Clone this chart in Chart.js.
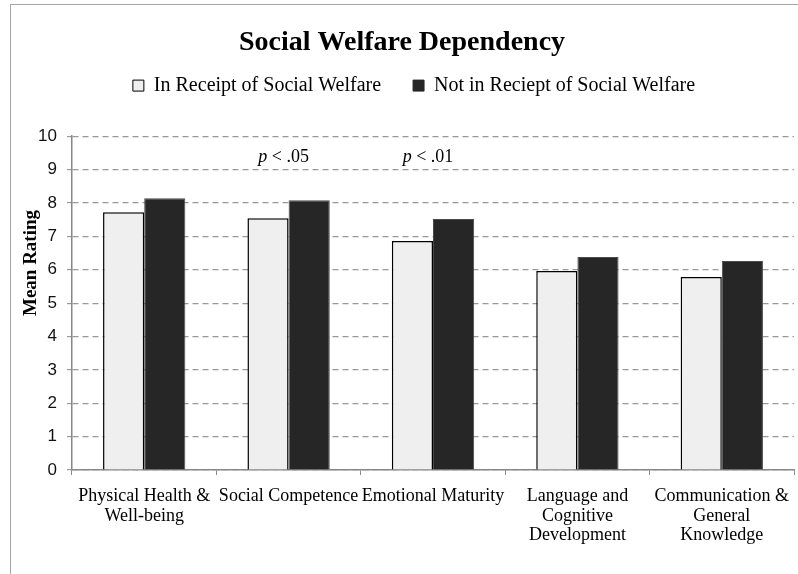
<!DOCTYPE html>
<html>
<head>
<meta charset="utf-8">
<script src="https://cdn.jsdelivr.net/npm/chart.js@4/dist/chart.umd.min.js"></script>
<style>
  html, body { margin: 0; padding: 0; background: #fff; }
  #wrap { position: relative; width: 798px; height: 574px; overflow: hidden; }
  #frame { position: absolute; left: 10px; top: 4px; width: 800px; height: 600px; border-left: 1px solid #a6a6a6; border-top: 1px solid #a6a6a6; pointer-events: none; }
  canvas { position: absolute; left: 0; top: 0; }
</style>
</head>
<body>
<div id="wrap">
  <canvas id="c" width="798" height="574"></canvas>
  <div id="frame"></div>
</div>
<script>
const categories = [
  ["Physical Health &", "Well-being"],
  ["Social Competence"],
  ["Emotional Maturity"],
  ["Language and", "Cognitive", "Development"],
  ["Communication &", "General", "Knowledge"]
];
const seriesNames = ["In Receipt of Social Welfare", "Not in Reciept of Social Welfare"];
const inReceipt = [7.72, 7.54, 6.86, 5.96, 5.78];
const notInReceipt = [8.14, 8.08, 7.52, 6.38, 6.26];
const annotations = [
  { index: 1, text: ".05" },
  { index: 2, text: ".01" }
];
const annotationLevel = 9.37;
const yTicks = [0, 1, 2, 3, 4, 5, 6, 7, 8, 9, 10];

const serif = "'Liberation Serif', 'Times New Roman', serif";
const sans = "'Liberation Sans', Arial, sans-serif";

const LEGEND_H = 76.6;     // total legend box height
const LEGEND_VPAD = 16;    // space above legend row
const LEGEND_SHIFT_X = 12; // legend centre offset

const extras = {
  id: 'extras',
  beforeLayout(chart) {
    const lg = chart.legend;
    if (lg && !lg.__patched) {
      lg.__patched = true;
      const origFit = lg.fit;
      lg.fit = function () {
        origFit.apply(this, arguments);
        this.height = LEGEND_H;
      };
      const origDraw = lg.draw;
      lg.draw = function () {
        const P = this.options.labels.padding;
        const t = this.top, l = this.left, r = this.right;
        this.top = t - (P - LEGEND_VPAD);
        this.left = l + LEGEND_SHIFT_X;
        this.right = r + LEGEND_SHIFT_X;
        origDraw.apply(this, arguments);
        this.top = t; this.left = l; this.right = r;
      };
    }
  },
  afterDraw(chart) {
    const ctx = chart.ctx;
    const x = chart.scales.x, y = chart.scales.y;
    ctx.save();
    ctx.fillStyle = '#000';
    ctx.textBaseline = 'middle';
    annotations.forEach(a => {
      const cx = x.getPixelForValue(a.index) - 5;
      const cy = y.getPixelForValue(annotationLevel);
      ctx.font = "italic 18px " + serif;
      const p = "p";
      const pw = ctx.measureText(p).width;
      ctx.font = "18px " + serif;
      const rest = " < " + a.text;
      const rw = ctx.measureText(rest).width;
      const start = cx - (pw + rw) / 2;
      ctx.textAlign = 'left';
      ctx.font = "italic 18px " + serif;
      ctx.fillText(p, start, cy);
      ctx.font = "18px " + serif;
      ctx.fillText(rest, start + pw, cy);
    });
    // y axis title
    ctx.translate(31, 263);
    ctx.rotate(-Math.PI / 2);
    ctx.textAlign = 'center';
    ctx.font = "bold 19px " + serif;
    ctx.fillText("Mean Rating", 0, 0);
    ctx.restore();
  }
};

new Chart(document.getElementById('c'), {
  type: 'bar',
  data: {
    labels: categories,
    datasets: [
      {
        label: seriesNames[0],
        data: inReceipt,
        backgroundColor: '#efefef',
        borderColor: '#000',
        borderWidth: 1.5,
        borderSkipped: 'bottom'
      },
      {
        label: seriesNames[1],
        data: notInReceipt,
        backgroundColor: '#262626',
        borderColor: '#4a4a4a',
        borderWidth: 1,
        borderSkipped: 'bottom'
      }
    ]
  },
  options: {
    responsive: false,
    animation: false,
    devicePixelRatio: 1,
    layout: { padding: { left: 10, right: 4, top: 0, bottom: 0 } },
    datasets: { bar: { categoryPercentage: 0.57, barPercentage: 1.0 } },
    plugins: {
      title: {
        display: true,
        text: "Social Welfare Dependency",
        color: '#000',
        font: { family: serif, size: 28, weight: 'bold', lineHeight: 1.2 },
        padding: { top: 26, bottom: 0 }
      },
      legend: {
        display: true,
        labels: {
          color: '#000',
          font: { family: serif, size: 20, lineHeight: 1.2 },
          boxWidth: 11,
          boxHeight: 11,
          padding: 32,
          generateLabels(chart) {
            return chart.data.datasets.map((ds, i) => ({
              text: ds.label,
              fillStyle: ds.backgroundColor,
              strokeStyle: i === 0 ? '#000' : '#262626',
              lineWidth: 1,
              fontColor: '#000',
              datasetIndex: i,
              hidden: false
            }));
          }
        }
      },
      tooltip: { enabled: false }
    },
    scales: {
      x: {
        afterFit(scale) {
          scale.height = 104;
          scale.paddingRight = 0;
          scale.paddingLeft = 0;
        },
        grid: {
          offset: true,
          drawOnChartArea: false,
          drawTicks: true,
          tickLength: 5,
          color: '#888'
        },
        border: { color: '#888', width: 1.5 },
        ticks: {
          color: '#000',
          font: { family: serif, size: 18, lineHeight: 1.08 },
          maxRotation: 0,
          autoSkip: false,
          padding: 12
        }
      },
      y: {
        min: 0,
        max: 10,
        afterBuildTicks(scale) { scale.ticks = yTicks.map(v => ({ value: v })); },
        afterFit(scale) { scale.width = 62; },
        grid: {
          color: '#999',
          lineWidth: 1.2,
          tickLength: 5,
          drawTicks: true
        },
        border: { color: '#888', width: 1.5, dash: [6, 4] },
        ticks: {
          color: '#111',
          font: { family: sans, size: 17 },
          padding: 10,
          stepSize: 1
        }
      }
    }
  },
  plugins: [extras]
});
</script>
</body>
</html>
